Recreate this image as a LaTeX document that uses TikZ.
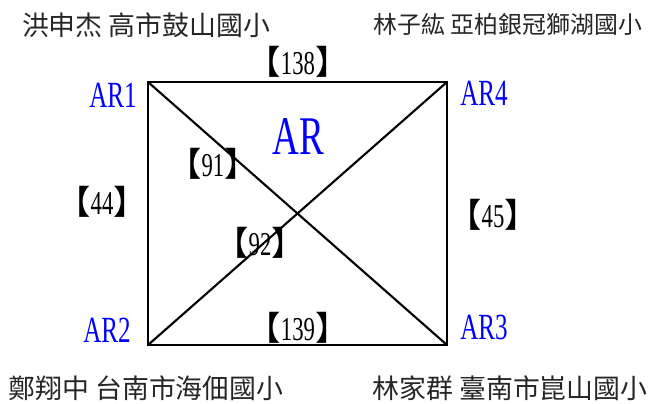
\documentclass[tikz,border=0pt]{standalone}
\usepackage{fontspec}
\setmainfont{Liberation Serif}
\newfontfamily\cjk{Noto Sans CJK TC}
\newfontfamily\narrow[FakeStretch=0.68]{Liberation Serif}
\newcommand{\wt}[1]{{\cjk 【}#1{\cjk 】}}

\begin{document}
\begin{tikzpicture}[x=0.02cm, y=-0.02cm,
    school/.style={font=\cjk\fontsize{15.3}{17}\selectfont, text=black!85, inner sep=0pt},
    router/.style={font=\narrow\fontsize{21}{24}\selectfont, text=blue, inner sep=0pt},
    weight/.style={font=\narrow\fontsize{19}{22}\selectfont, inner sep=0pt},
    link/.style={line width=1.2pt}]
    \useasboundingbox (0,0) rectangle (650,403);

    % corners of the square
    \coordinate (c1) at (148, 82);
    \coordinate (c4) at (447, 82);
    \coordinate (c3) at (447, 345);
    \coordinate (c2) at (148, 345);

    \draw[link] (c1) -- (c4) -- (c3) -- (c2) -- cycle;
    \draw[link] (c1) -- (c3);
    \draw[link] (c2) -- (c4);

    % router names
    \node[router] (ar1) at (113, 95) {AR1};
    \node[router] (ar4) at (484, 93) {AR4};
    \node[router] (ar2) at (107, 330) {AR2};
    \node[router] (ar3) at (484, 327) {AR3};
    \node[router, font=\narrow\fontsize{31}{34}\selectfont] (ar) at (298, 137) {AR};

    % link weights
    \node[weight] (w14) at (298, 62) {\wt{138}};
    \node[weight] (w12) at (102, 202) {\wt{44}};
    \node[weight] (w43) at (493, 215) {\wt{45}};
    \node[weight] (w23) at (298, 328) {\wt{139}};
    \node[weight] (w13) at (213, 164) {\wt{91}};
    \node[weight] (w24) at (260, 243) {\wt{92}};

    % schools
    \node[school] (s1) at (146, 25) {洪申杰 高市鼓山國小};
    \node[school, font=\cjk\fontsize{13.6}{16}\selectfont] (s4) at (508, 24) {林子紘 亞柏銀冠獅湖國小};
    \node[school] (s2) at (146, 388) {鄭翔中 台南市海佃國小};
    \node[school] (s3) at (510, 388) {林家群 臺南市崑山國小};
\end{tikzpicture}
\end{document}
